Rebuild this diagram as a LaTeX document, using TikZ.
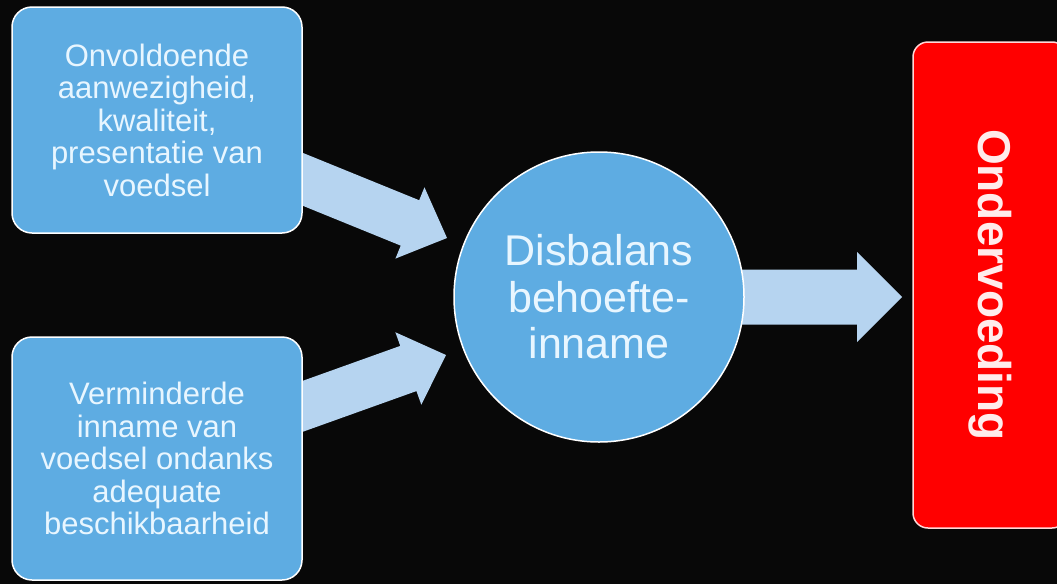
\documentclass[tikz,border=0pt]{standalone}
\usepackage{fontspec}
\setmainfont{Liberation Sans}
\usetikzlibrary{calc}
\pgfdeclarelayer{bglayer}
\pgfdeclarelayer{arrowlayer}
\pgfsetlayers{bglayer,arrowlayer,main}
\definecolor{bgc}{RGB}{8,8,8}
\definecolor{boxblue}{RGB}{94,172,226}
\definecolor{arrowblue}{RGB}{182,212,240}
\definecolor{txtc}{RGB}{232,246,255}
\definecolor{redbox}{RGB}{255,0,0}
\definecolor{redborder}{RGB}{255,215,215}
\definecolor{redtxt}{RGB}{255,236,236}
% #1 start, #2 tip, #3 shaft half width, #4 head half width, #5 head length
\newcommand\fatarrow[5]{%
  \coordinate (hb) at ($(#2)!#5!(#1)$);
  \fill[arrowblue] ($(#1)!#3!90:(#2)$) -- ($(hb)!#3!90:(#2)$) -- ($(hb)!#4!90:(#2)$)
    -- (#2) -- ($(hb)!#4!-90:(#2)$) -- ($(hb)!#3!-90:(#2)$) -- ($(#1)!#3!-90:(#2)$) -- cycle;}
\begin{document}
\begin{tikzpicture}[x=1pt,y=-1pt,
  bluebox/.style={draw=white, line width=1.5pt, fill=boxblue, rounded corners=20pt,
    minimum width=290pt, inner sep=0pt, text=txtc, align=center,
    font=\fontsize{31}{32.5}\selectfont},
  bluecircle/.style={circle, draw=white, line width=1.5pt, fill=boxblue,
    minimum size=290pt, inner sep=0pt, text=txtc, align=center,
    font=\fontsize{43}{46.5}\selectfont},
  redrect/.style={draw=redborder, line width=1.5pt, fill=redbox, rounded corners=15pt,
    inner sep=0pt, text=redtxt, font=\fontsize{46}{50}\selectfont\bfseries}]
\useasboundingbox (0,0) rectangle (1057,584);
\clip (0,0) rectangle (1057,584);
\begin{pgfonlayer}{bglayer}
  \fill[bgc] (0,0) rectangle (1057,584);
\end{pgfonlayer}

\node[bluebox, minimum height=226pt] (b1) at (157,120)
  {Onvoldoende\\aanwezigheid,\\kwaliteit,\\presentatie van\\voedsel};
\node[bluebox, minimum height=243pt] (b2) at (157,458.5)
  {Verminderde\\inname van\\voedsel ondanks\\adequate\\beschikbaarheid};
\node[bluecircle] (c) at (599,297) {Disbalans\\behoefte-\\inname};
\node[redrect, rotate=-90, minimum width=486pt, minimum height=154pt] (r) at (990,285)
  {Ondervoeding};

\coordinate (t1) at (447,238);
\coordinate (t2) at (446,355);
\coordinate (t3) at (902,297);
\begin{pgfonlayer}{arrowlayer}
  \fatarrow{b1.center}{t1}{24.5pt}{38.5pt}{40pt}
  \fatarrow{b2.center}{t2}{24pt}{38.5pt}{40pt}
  \fatarrow{c.center}{t3}{27.5pt}{45pt}{45pt}
\end{pgfonlayer}
\end{tikzpicture}
\end{document}
